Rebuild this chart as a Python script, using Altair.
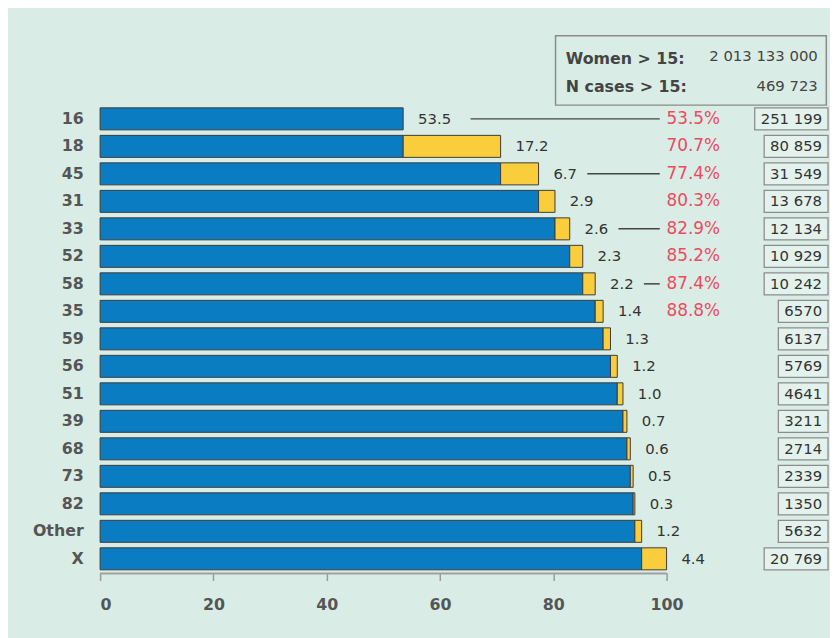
import altair as alt
import pandas as pd

# ---- data ----
categories = ["16", "18", "45", "31", "33", "52", "58", "35", "59", "56",
              "51", "39", "68", "73", "82", "Other", "X"]
shares = [53.5, 17.2, 6.7, 2.9, 2.6, 2.3, 2.2, 1.4, 1.3, 1.2,
          1.0, 0.7, 0.6, 0.5, 0.3, 1.2, 4.4]
cases = ["251 199", "80 859", "31 549", "13 678", "12 134", "10 929", "10 242",
         "6570", "6137", "5769", "4641", "3211", "2714", "2339", "1350",
         "5632", "20 769"]
n_cumulative_shown = 8
connector_rows = ["16", "45", "33", "58"]
info_labels = ["Women > 15:", "N cases > 15:"]
info_values = ["2 013 133 000", "469 723"]
x_ticks = [0, 20, 40, 60, 80, 100]

# ---- styling ----
FONT = "DejaVu Sans"
BG = "#d9ede6"
BLUE = "#0a7cc2"
YELLOW = "#f9cd3c"
EDGE = "#3c3c3c"
RED = "#ec4a5f"
XMAX = 128.5
PW = 735
PX = PW / XMAX  # pixels per data unit

cum = []
s = 0.0
for v in shares:
    s = round(s + v, 1)
    cum.append(s)
base = [0.0] + cum[:-1]

df = pd.DataFrame({
    "cat": categories,
    "share": shares,
    "cum": cum,
    "base": base,
    "cases": cases,
})
df["zero"] = 0.0
df["hundred"] = float(x_ticks[-1])
df["blue_end"] = [cum[0]] + base[1:]
df["share_label"] = [f"{v:.1f}" for v in shares]
df["cum_label"] = [f"{c:.1f}%" for c in cum]
df["xend"] = XMAX
digits = df["cases"].str.count(r"\d")
spaces = df["cases"].str.count(" ")
df["box_start"] = XMAX - (9.54 * digits + 4.77 * spaces + 12) / PX
df["conn_start"] = df["cum"] + 3.3 * df["share_label"].str.len() - 1.3
df["conn_end"] = 98.8

xscale = alt.Scale(domain=[0, XMAX], nice=False)
yscale = alt.Scale(domain=categories, paddingInner=0.2, paddingOuter=0.1)

X_AXIS = alt.Axis(values=x_ticks, domain=False, grid=False, tickSize=8,
                  tickColor="#9a9a9a", tickWidth=1.5, labelFontSize=16,
                  labelFontWeight="bold", labelColor="#555555",
                  labelPadding=16, labelFont=FONT, title=None)
Y_AXIS = alt.Axis(domain=False, ticks=False, labelFontSize=16,
                  labelFontWeight="bold", labelColor="#555555",
                  labelPadding=17, labelFont=FONT, title=None)


def X(field):
    return alt.X(field, scale=xscale, axis=X_AXIS, title=None)


Y = alt.Y("cat:N", scale=yscale, sort=categories, axis=Y_AXIS, title=None)

chart_base = alt.Chart(df)

blue = chart_base.mark_bar(fill=BLUE, stroke=EDGE, strokeWidth=1).encode(
    x=X("zero:Q"), x2="blue_end:Q", y=Y,
)

yellow = chart_base.transform_filter("datum.share < datum.cum").mark_bar(
    fill=YELLOW, stroke=EDGE, strokeWidth=1
).encode(x=X("base:Q"), x2="cum:Q", y=Y)

baseline_df = pd.DataFrame({"x0": [x_ticks[0]], "x1": [x_ticks[-1]]})
baseline = alt.Chart(baseline_df).mark_rule(color="#a0a0a0", strokeWidth=2).encode(
    x=X("x0:Q"), x2="x1:Q", y=alt.value(473)
)

value_text = chart_base.mark_text(
    align="left", baseline="middle", dx=15, fontSize=15, font=FONT, color="#333333"
).encode(x=X("cum:Q"), y=Y, text="share_label:N")

cum_df = df.iloc[:n_cumulative_shown]
red_text = alt.Chart(cum_df).mark_text(
    align="left", baseline="middle", fontSize=17, font=FONT, color=RED
).encode(x=X("hundred:Q"), y=Y, text="cum_label:N")

connectors = alt.Chart(df[df["cat"].isin(connector_rows)]).mark_rule(
    color="#444444", strokeWidth=1.5
).encode(x=X("conn_start:Q"), x2="conn_end:Q", y=Y)

boxes = chart_base.mark_rect(fill="#e4f2ed", stroke="#8c8c8c", strokeWidth=1.3).encode(
    x=X("box_start:Q"), x2="xend:Q", y=Y,
)

box_text = chart_base.mark_text(
    align="right", baseline="middle", dx=-6, fontSize=15, font=FONT, color="#333333"
).encode(x=X("xend:Q"), y=Y, text="cases:N")

info_box_df = pd.DataFrame({"x0": [80.4], "x1": [128.2]})
info_box = alt.Chart(info_box_df).mark_rect(
    fill=BG, stroke="#8a8a8a", strokeWidth=1.5
).encode(x=X("x0:Q"), x2="x1:Q", y=alt.value(-70), y2=alt.value(0))

info_layers = []
label_y = [-47, -18]
value_y = [-50, -19]
for lab, val, ly, vy in zip(info_labels, info_values, label_y, value_y):
    info_layers.append(
        alt.Chart(pd.DataFrame({"t": [lab], "x": [82.2]})).mark_text(
            align="left", baseline="middle", fontSize=16, fontWeight="bold",
            font=FONT, color="#444444"
        ).encode(x=X("x:Q"), y=alt.value(ly), text="t:N")
    )
    info_layers.append(
        alt.Chart(pd.DataFrame({"t": [val], "x": [126.7]})).mark_text(
            align="right", baseline="middle", fontSize=15,
            font=FONT, color="#444444"
        ).encode(x=X("x:Q"), y=alt.value(vy), text="t:N")
    )

chart = alt.layer(
    blue, yellow, baseline, value_text, connectors, red_text, boxes, box_text,
    info_box, *info_layers
).properties(
    width=PW,
    height=472,
    autosize=alt.AutoSizeParams(type="none"),
    padding={"left": 93, "top": 95, "right": 2, "bottom": 63},
    background=BG,
).configure_view(stroke=None)

chart.save("out.html", embed_options={"renderer": "svg", "actions": False})
